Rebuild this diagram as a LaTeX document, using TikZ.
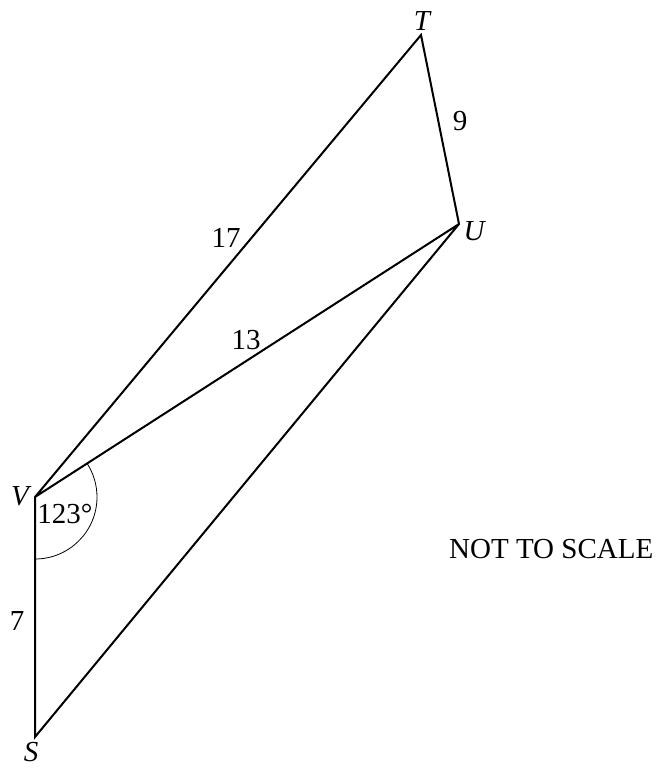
\documentclass[tikz,border=0pt]{standalone}
\usepackage{fontspec}
\setmainfont{Liberation Serif}
\usepackage{tikz}
\usetikzlibrary{calc}
\tikzset{
    edge/.style={draw, black, line width=2pt, line join=miter},
    anglearc/.style={draw, black, line width=0.8pt},
    vlabel/.style={inner sep=0pt, font=\fontsize{29}{34}\selectfont\itshape},
    elabel/.style={inner sep=0pt, font=\fontsize{29}{34}\selectfont}
}

\begin{document}
\begin{tikzpicture}[x=1pt, y=-1pt]
    \useasboundingbox (0,0) rectangle (657,769);

    % Vertices
    \coordinate (T) at (421,35);
    \coordinate (U) at (459,224);
    \coordinate (V) at (35,497);
    \coordinate (S) at (35,737);

    % Sides
    \draw[edge] (V) -- (T) -- (U) -- (V) -- (S) -- (U);

    % Angle at V
    \draw[anglearc] ($(V)+(0,62)$) arc[start angle=90, end angle=-32.7, radius=62];

    % Vertex labels
    \node[vlabel] (lT) at (422,21) {T};
    \node[vlabel] (lU) at (474,231) {U};
    \node[vlabel] (lV) at (20,496) {V};
    \node[vlabel] (lS) at (31,752) {S};

    % Side lengths and angle
    \node[elabel] (l17) at (226,238) {17};
    \node[elabel] (l9) at (460,121) {9};
    \node[elabel] (l13) at (246,340) {13};
    \node[elabel] (l7) at (17,621) {7};
    \node[elabel] (lang) at (65,514) {123°};

    % Note
    \node[elabel, anchor=west] (note) at (449,549) {NOT TO SCALE};

\end{tikzpicture}
\end{document}
